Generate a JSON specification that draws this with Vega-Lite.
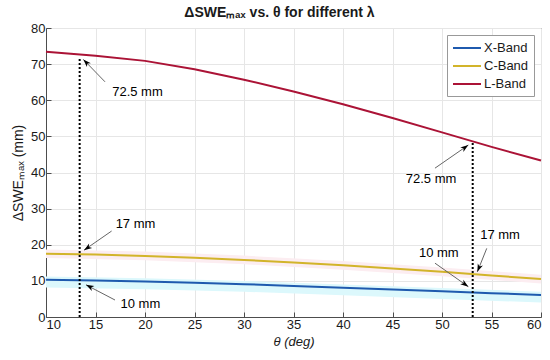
{
  "$schema": "https://vega.github.io/schema/vega-lite/v6.json",
  "width": 495,
  "height": 289,
  "autosize": {"type": "none"},
  "padding": {"left": 46, "top": 28, "right": 9, "bottom": 43},
  "background": "white",
  "config": {
    "font": "Liberation Sans",
    "view": {"stroke": "#4d4d4d", "strokeWidth": 1},
    "axis": {
      "domainColor": "#4d4d4d",
      "tickColor": "#4d4d4d",
      "tickSize": -5,
      "gridColor": "#e6e6e6",
      "labelColor": "#1a1a1a",
      "labelFontSize": 13,
      "titleFontSize": 13,
      "titleFontWeight": "normal",
      "titleColor": "#1a1a1a",
      "labelFont": "Liberation Sans",
      "titleFont": "Liberation Sans",
      "labelOverlap": false
    },
    "axisY": {"tickCount": 20},
    "axisX": {"tickCount": 20}
  },
  "title": {
    "text": "ΔSWEₘₐₓ vs. θ for different λ",
    "fontSize": 14,
    "fontWeight": "bold",
    "color": "#1a1a1a",
    "anchor": "middle",
    "dx": -14,
    "offset": 2
  },
  "datasets": {
    "curves": [
      {"theta": 10, "band": "X-Band", "swe": 10.3},
      {"theta": 15, "band": "X-Band", "swe": 10.1},
      {"theta": 20, "band": "X-Band", "swe": 9.8},
      {"theta": 25, "band": "X-Band", "swe": 9.5},
      {"theta": 30, "band": "X-Band", "swe": 9.1},
      {"theta": 35, "band": "X-Band", "swe": 8.6},
      {"theta": 40, "band": "X-Band", "swe": 8.1},
      {"theta": 45, "band": "X-Band", "swe": 7.6},
      {"theta": 50, "band": "X-Band", "swe": 7.1},
      {"theta": 55, "band": "X-Band", "swe": 6.6},
      {"theta": 60, "band": "X-Band", "swe": 6.1},
      {"theta": 10, "band": "C-Band", "swe": 17.5},
      {"theta": 15, "band": "C-Band", "swe": 17.3},
      {"theta": 20, "band": "C-Band", "swe": 16.9},
      {"theta": 25, "band": "C-Band", "swe": 16.4},
      {"theta": 30, "band": "C-Band", "swe": 15.8},
      {"theta": 35, "band": "C-Band", "swe": 15.1},
      {"theta": 40, "band": "C-Band", "swe": 14.3},
      {"theta": 45, "band": "C-Band", "swe": 13.4},
      {"theta": 50, "band": "C-Band", "swe": 12.5},
      {"theta": 55, "band": "C-Band", "swe": 11.5},
      {"theta": 60, "band": "C-Band", "swe": 10.5},
      {"theta": 10, "band": "L-Band", "swe": 73.4},
      {"theta": 15, "band": "L-Band", "swe": 72.3},
      {"theta": 20, "band": "L-Band", "swe": 70.9},
      {"theta": 25, "band": "L-Band", "swe": 68.6},
      {"theta": 30, "band": "L-Band", "swe": 65.7},
      {"theta": 35, "band": "L-Band", "swe": 62.4},
      {"theta": 40, "band": "L-Band", "swe": 58.9},
      {"theta": 45, "band": "L-Band", "swe": 55.1},
      {"theta": 50, "band": "L-Band", "swe": 51.1},
      {"theta": 55, "band": "L-Band", "swe": 47.1},
      {"theta": 60, "band": "L-Band", "swe": 43.3}
    ],
    "spread": [
      {"theta": 10, "band": "X", "lo": 8.2, "hi": 11.2},
      {"theta": 20, "band": "X", "lo": 7.7, "hi": 10.7},
      {"theta": 30, "band": "X", "lo": 7.0, "hi": 10.0},
      {"theta": 40, "band": "X", "lo": 6.0, "hi": 9.0},
      {"theta": 50, "band": "X", "lo": 5.0, "hi": 8.0},
      {"theta": 60, "band": "X", "lo": 4.0, "hi": 7.0},
      {"theta": 10, "band": "C", "lo": 16.3, "hi": 18.7},
      {"theta": 20, "band": "C", "lo": 15.7, "hi": 18.1},
      {"theta": 30, "band": "C", "lo": 14.6, "hi": 17.0},
      {"theta": 40, "band": "C", "lo": 13.1, "hi": 15.5},
      {"theta": 50, "band": "C", "lo": 11.3, "hi": 13.7},
      {"theta": 60, "band": "C", "lo": 9.3, "hi": 11.7}
    ],
    "vlines": [
      {"theta": 13.4, "bottom": 0, "top": 71.6},
      {"theta": 53.1, "bottom": 0, "top": 48.3}
    ],
    "arrows": [
      {"k": 1, "x1": 15.96, "y1": 65.1, "x2": 13.77, "y2": 71.3},
      {"k": 2, "x1": 49.29, "y1": 41.2, "x2": 52.66, "y2": 47.6},
      {"k": 3, "x1": 54.52, "y1": 19.0, "x2": 53.57, "y2": 12.5},
      {"k": 4, "x1": 49.29, "y1": 14.9, "x2": 52.66, "y2": 8.4},
      {"k": 5, "x1": 16.63, "y1": 23.8, "x2": 13.84, "y2": 18.5},
      {"k": 6, "x1": 16.97, "y1": 4.7, "x2": 14.04, "y2": 8.9}
    ],
    "labels": [
      {"x": 19.24, "y": 62.4, "text": "72.5 mm"},
      {"x": 48.89, "y": 38.2, "text": "72.5 mm"},
      {"x": 55.86, "y": 22.7, "text": "17 mm"},
      {"x": 49.68, "y": 17.8, "text": "10 mm"},
      {"x": 19.04, "y": 25.7, "text": "17 mm"},
      {"x": 19.53, "y": 3.6, "text": "10 mm"}
    ]
  },
  "layer": [
    {
      "data": {"name": "spread"},
      "transform": [{"filter": "datum.band === 'X'"}],
      "mark": {"type": "area", "color": "#dcf8fc"},
      "encoding": {
        "x": {"field": "theta", "type": "quantitative", "scale": {"domain": [10, 60], "nice": false}, "axis": {"values": [10, 15, 20, 25, 30, 35, 40, 45, 50, 55, 60], "tickCount": 20, "title": "θ (deg)", "titleFontStyle": "italic", "labelPadding": 6, "titlePadding": 4}},
        "y": {"field": "lo", "type": "quantitative", "scale": {"domain": [0, 80], "nice": false}, "axis": {"values": [0, 10, 20, 30, 40, 50, 60, 70, 80], "tickCount": 20, "title": "ΔSWEₘₐₓ (mm)", "titleFontSize": 14, "labelPadding": 6, "titlePadding": 5}},
        "y2": {"field": "hi"}
      }
    },
    {
      "data": {"name": "spread"},
      "transform": [{"filter": "datum.band === 'C'"}],
      "mark": {"type": "area", "color": "#fcedf1"},
      "encoding": {
        "x": {"field": "theta", "type": "quantitative"},
        "y": {"field": "lo", "type": "quantitative"},
        "y2": {"field": "hi"}
      }
    },
    {
      "data": {"name": "curves"},
      "mark": {"type": "line", "strokeWidth": 2},
      "encoding": {
        "x": {"field": "theta", "type": "quantitative"},
        "y": {"field": "swe", "type": "quantitative"},
        "color": {
          "field": "band", "type": "nominal",
          "scale": {"domain": ["X-Band", "C-Band", "L-Band"], "range": ["#1f5aae", "#d2b42a", "#ab1336"]},
          "legend": {
            "title": null,
            "orient": "top-right",
            "offset": 7,
            "symbolType": "M-1,0L3,0",
            "symbolSize": 196,
            "symbolStrokeWidth": 2,
            "labelFontSize": 13,
            "labelColor": "#1a1a1a",
            "labelFont": "Liberation Sans",
            "strokeColor": "#999999",
            "fillColor": "white",
            "padding": 5,
            "rowPadding": 3,
            "labelOffset": 16
          }
        }
      }
    },
    {
      "data": {"name": "vlines"},
      "mark": {"type": "rule", "color": "black", "strokeWidth": 2, "strokeDash": [2, 2]},
      "encoding": {
        "x": {"field": "theta", "type": "quantitative"},
        "y": {"field": "bottom", "type": "quantitative"},
        "y2": {"field": "top"}
      }
    },
    {
      "data": {"name": "arrows"},
      "mark": {"type": "rule", "color": "#666666", "strokeWidth": 1},
      "encoding": {
        "x": {"field": "x1", "type": "quantitative"},
        "y": {"field": "y1", "type": "quantitative"},
        "x2": {"field": "x2"},
        "y2": {"field": "y2"}
      }
    },
    {
      "data": {"name": "arrows"},
      "mark": {"type": "point", "filled": true, "color": "black", "opacity": 1, "size": 100, "shape": "M0,0L-0.55,1.6L0,1.15L0.55,1.6Z"},
      "encoding": {
        "x": {"field": "x2", "type": "quantitative"},
        "y": {"field": "y2", "type": "quantitative"},
        "angle": {"field": "k", "type": "quantitative", "scale": {"domain": [1, 2, 3, 4, 5, 6], "range": [316, 55, 202, 125, 236, 297]}, "legend": null}
      }
    },
    {
      "data": {"name": "labels"},
      "mark": {"type": "text", "fontSize": 13, "color": "black", "font": "Liberation Sans", "align": "center", "baseline": "middle"},
      "encoding": {
        "x": {"field": "x", "type": "quantitative"},
        "y": {"field": "y", "type": "quantitative"},
        "text": {"field": "text", "type": "nominal"}
      }
    }
  ]
}
